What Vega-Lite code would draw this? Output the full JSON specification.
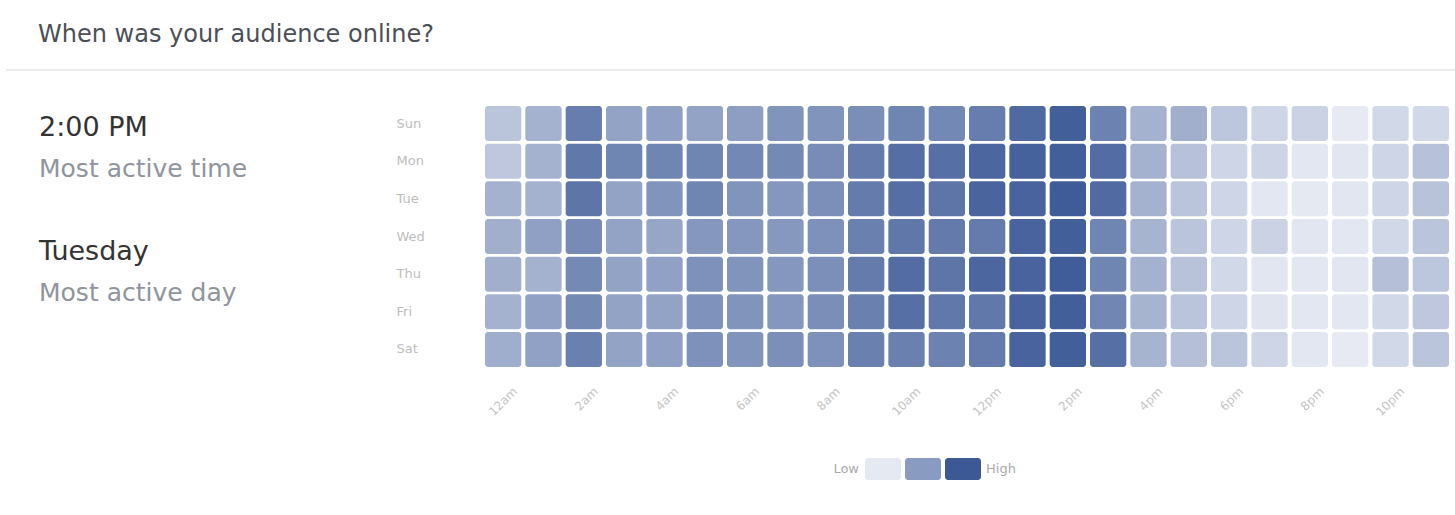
{
  "$schema": "https://vega.github.io/schema/vega-lite/v6.json",
  "background": "white",
  "padding": {"left": 5, "top": 23, "right": 0, "bottom": 0},
  "bounds": "flush",
  "title": {"text": "When was your audience online?", "anchor": "start", "dx": 33, "fontSize": 24, "fontWeight": "normal", "font": "DejaVu Sans", "color": "#4b4f56", "offset": 22},
  "config": {"view": {"stroke": null}, "font": "DejaVu Sans"},
  "spacing": 36,
  "vconcat": [
    {
      "width": 1450,
      "height": 1,
      "data": {"values": [{"line": 0}]},
      "mark": {"type": "rule", "color": "#e9ebee", "strokeWidth": 2},
      "encoding": {"y": {"field": "line", "type": "quantitative", "scale": {"domain": [0, 1]}, "axis": null}}
    },
    {
      "bounds": "flush",
      "spacing": 79,
      "hconcat": [
        {
          "width": 400,
          "height": 210,
          "data": {"values": [
            {"metric": "time", "value": "2:00 PM", "caption": "Most active time"},
            {"metric": "day", "value": "Tuesday", "caption": "Most active day"}
          ]},
          "encoding": {
            "x": {"datum": 0, "type": "quantitative", "scale": {"domain": [0, 1]}, "axis": null},
            "y": {"field": "metric", "type": "ordinal", "sort": ["time", "day"], "scale": {"type": "point", "padding": 0.35}, "axis": null}
          },
          "layer": [
            {"mark": {"type": "text", "align": "left", "baseline": "middle", "dx": 33, "dy": -21, "fontSize": 27, "fontWeight": "normal", "color": "#333333"}, "encoding": {"text": {"field": "value"}}},
            {"mark": {"type": "text", "align": "left", "baseline": "middle", "dx": 33, "dy": 20, "fontSize": 25, "color": "#90949c"}, "encoding": {"text": {"field": "caption"}}}
          ]
        },
        {
          "bounds": "flush",
          "spacing": 91,
          "vconcat": [
            {
              "width": 964,
              "height": 261,
              "data": {"values": [
{"day":"Sun","hour":0,"activity":28},{"day":"Sun","hour":1,"activity":40},{"day":"Sun","hour":2,"activity":75},{"day":"Sun","hour":3,"activity":50},{"day":"Sun","hour":4,"activity":52},{"day":"Sun","hour":5,"activity":50},{"day":"Sun","hour":6,"activity":53},{"day":"Sun","hour":7,"activity":60},{"day":"Sun","hour":8,"activity":60},{"day":"Sun","hour":9,"activity":64},{"day":"Sun","hour":10,"activity":70},{"day":"Sun","hour":11,"activity":68},{"day":"Sun","hour":12,"activity":75},{"day":"Sun","hour":13,"activity":88},{"day":"Sun","hour":14,"activity":95},{"day":"Sun","hour":15,"activity":72},{"day":"Sun","hour":16,"activity":40},{"day":"Sun","hour":17,"activity":42},{"day":"Sun","hour":18,"activity":27},{"day":"Sun","hour":19,"activity":17},{"day":"Sun","hour":20,"activity":19},{"day":"Sun","hour":21,"activity":3},{"day":"Sun","hour":22,"activity":15},{"day":"Sun","hour":23,"activity":15},
{"day":"Mon","hour":0,"activity":26},{"day":"Mon","hour":1,"activity":40},{"day":"Mon","hour":2,"activity":78},{"day":"Mon","hour":3,"activity":70},{"day":"Mon","hour":4,"activity":70},{"day":"Mon","hour":5,"activity":70},{"day":"Mon","hour":6,"activity":68},{"day":"Mon","hour":7,"activity":67},{"day":"Mon","hour":8,"activity":65},{"day":"Mon","hour":9,"activity":76},{"day":"Mon","hour":10,"activity":85},{"day":"Mon","hour":11,"activity":84},{"day":"Mon","hour":12,"activity":90},{"day":"Mon","hour":13,"activity":93},{"day":"Mon","hour":14,"activity":95},{"day":"Mon","hour":15,"activity":86},{"day":"Mon","hour":16,"activity":40},{"day":"Mon","hour":17,"activity":30},{"day":"Mon","hour":18,"activity":17},{"day":"Mon","hour":19,"activity":18},{"day":"Mon","hour":20,"activity":5},{"day":"Mon","hour":21,"activity":6},{"day":"Mon","hour":22,"activity":17},{"day":"Mon","hour":23,"activity":30},
{"day":"Tue","hour":0,"activity":40},{"day":"Tue","hour":1,"activity":40},{"day":"Tue","hour":2,"activity":80},{"day":"Tue","hour":3,"activity":50},{"day":"Tue","hour":4,"activity":60},{"day":"Tue","hour":5,"activity":70},{"day":"Tue","hour":6,"activity":60},{"day":"Tue","hour":7,"activity":58},{"day":"Tue","hour":8,"activity":63},{"day":"Tue","hour":9,"activity":76},{"day":"Tue","hour":10,"activity":85},{"day":"Tue","hour":11,"activity":80},{"day":"Tue","hour":12,"activity":91},{"day":"Tue","hour":13,"activity":92},{"day":"Tue","hour":14,"activity":97},{"day":"Tue","hour":15,"activity":87},{"day":"Tue","hour":16,"activity":40},{"day":"Tue","hour":17,"activity":28},{"day":"Tue","hour":18,"activity":17},{"day":"Tue","hour":19,"activity":5},{"day":"Tue","hour":20,"activity":4},{"day":"Tue","hour":21,"activity":6},{"day":"Tue","hour":22,"activity":17},{"day":"Tue","hour":23,"activity":29},
{"day":"Wed","hour":0,"activity":42},{"day":"Wed","hour":1,"activity":52},{"day":"Wed","hour":2,"activity":66},{"day":"Wed","hour":3,"activity":50},{"day":"Wed","hour":4,"activity":48},{"day":"Wed","hour":5,"activity":58},{"day":"Wed","hour":6,"activity":58},{"day":"Wed","hour":7,"activity":57},{"day":"Wed","hour":8,"activity":62},{"day":"Wed","hour":9,"activity":73},{"day":"Wed","hour":10,"activity":79},{"day":"Wed","hour":11,"activity":77},{"day":"Wed","hour":12,"activity":76},{"day":"Wed","hour":13,"activity":92},{"day":"Wed","hour":14,"activity":95},{"day":"Wed","hour":15,"activity":70},{"day":"Wed","hour":16,"activity":39},{"day":"Wed","hour":17,"activity":28},{"day":"Wed","hour":18,"activity":17},{"day":"Wed","hour":19,"activity":19},{"day":"Wed","hour":20,"activity":6},{"day":"Wed","hour":21,"activity":5},{"day":"Wed","hour":22,"activity":15},{"day":"Wed","hour":23,"activity":28},
{"day":"Thu","hour":0,"activity":42},{"day":"Thu","hour":1,"activity":40},{"day":"Thu","hour":2,"activity":67},{"day":"Thu","hour":3,"activity":50},{"day":"Thu","hour":4,"activity":51},{"day":"Thu","hour":5,"activity":62},{"day":"Thu","hour":6,"activity":60},{"day":"Thu","hour":7,"activity":58},{"day":"Thu","hour":8,"activity":63},{"day":"Thu","hour":9,"activity":76},{"day":"Thu","hour":10,"activity":86},{"day":"Thu","hour":11,"activity":80},{"day":"Thu","hour":12,"activity":90},{"day":"Thu","hour":13,"activity":92},{"day":"Thu","hour":14,"activity":96},{"day":"Thu","hour":15,"activity":70},{"day":"Thu","hour":16,"activity":40},{"day":"Thu","hour":17,"activity":29},{"day":"Thu","hour":18,"activity":15},{"day":"Thu","hour":19,"activity":6},{"day":"Thu","hour":20,"activity":5},{"day":"Thu","hour":21,"activity":6},{"day":"Thu","hour":22,"activity":31},{"day":"Thu","hour":23,"activity":27},
{"day":"Fri","hour":0,"activity":40},{"day":"Fri","hour":1,"activity":51},{"day":"Fri","hour":2,"activity":67},{"day":"Fri","hour":3,"activity":50},{"day":"Fri","hour":4,"activity":50},{"day":"Fri","hour":5,"activity":61},{"day":"Fri","hour":6,"activity":60},{"day":"Fri","hour":7,"activity":58},{"day":"Fri","hour":8,"activity":64},{"day":"Fri","hour":9,"activity":73},{"day":"Fri","hour":10,"activity":84},{"day":"Fri","hour":11,"activity":78},{"day":"Fri","hour":12,"activity":78},{"day":"Fri","hour":13,"activity":92},{"day":"Fri","hour":14,"activity":95},{"day":"Fri","hour":15,"activity":69},{"day":"Fri","hour":16,"activity":39},{"day":"Fri","hour":17,"activity":28},{"day":"Fri","hour":18,"activity":17},{"day":"Fri","hour":19,"activity":7},{"day":"Fri","hour":20,"activity":5},{"day":"Fri","hour":21,"activity":5},{"day":"Fri","hour":22,"activity":15},{"day":"Fri","hour":23,"activity":26},
{"day":"Sat","hour":0,"activity":43},{"day":"Sat","hour":1,"activity":51},{"day":"Sat","hour":2,"activity":73},{"day":"Sat","hour":3,"activity":50},{"day":"Sat","hour":4,"activity":52},{"day":"Sat","hour":5,"activity":62},{"day":"Sat","hour":6,"activity":60},{"day":"Sat","hour":7,"activity":63},{"day":"Sat","hour":8,"activity":62},{"day":"Sat","hour":9,"activity":73},{"day":"Sat","hour":10,"activity":73},{"day":"Sat","hour":11,"activity":72},{"day":"Sat","hour":12,"activity":76},{"day":"Sat","hour":13,"activity":92},{"day":"Sat","hour":14,"activity":95},{"day":"Sat","hour":15,"activity":84},{"day":"Sat","hour":16,"activity":39},{"day":"Sat","hour":17,"activity":31},{"day":"Sat","hour":18,"activity":28},{"day":"Sat","hour":19,"activity":17},{"day":"Sat","hour":20,"activity":5},{"day":"Sat","hour":21,"activity":3},{"day":"Sat","hour":22,"activity":15},{"day":"Sat","hour":23,"activity":28}
              ]},
              "mark": {"type": "rect", "cornerRadius": 3},
              "encoding": {
                "x": {"field": "hour", "type": "ordinal", "scale": {"paddingInner": 0.1, "paddingOuter": 0},
                  "axis": {"values": [0, 2, 4, 6, 8, 10, 12, 14, 16, 18, 20, 22],
                    "labelExpr": "datum.value == 0 ? '12am' : datum.value < 12 ? datum.value + 'am' : datum.value == 12 ? '12pm' : (datum.value - 12) + 'pm'",
                    "labelAngle": -45, "labelAlign": "right", "labelBaseline": "middle", "labelOffset": 12,
                    "domain": false, "ticks": false, "labelPadding": 22, "labelColor": "#c4c4c4", "labelFontSize": 12, "title": null}},
                "y": {"field": "day", "type": "ordinal", "sort": ["Sun", "Mon", "Tue", "Wed", "Thu", "Fri", "Sat"], "scale": {"paddingInner": 0.07, "paddingOuter": 0},
                  "axis": {"domain": false, "ticks": false, "labelAlign": "left", "labelPadding": 89, "labelColor": "#bdbdbd", "labelFontSize": 13, "title": null}},
                "color": {"field": "activity", "type": "quantitative", "scale": {"domain": [0, 100], "range": ["#eceff6", "#3a5795"], "interpolate": "rgb"}, "legend": null}
              }
            },
            {
              "width": 964,
              "height": 22,
              "layer": [
                {
                  "data": {"values": [{"level": "low", "activity": 4}, {"level": "mid", "activity": 55}, {"level": "high", "activity": 99}]},
                  "mark": {"type": "rect", "cornerRadius": 3},
                  "encoding": {
                    "x": {"field": "level", "type": "ordinal", "scale": {"domain": ["low", "mid", "high"], "range": [380, 496], "paddingInner": 0.1, "paddingOuter": 0}, "axis": null},
                    "color": {"field": "activity", "type": "quantitative", "scale": {"domain": [0, 100], "range": ["#eceff6", "#3a5795"], "interpolate": "rgb"}, "legend": null}
                  }
                },
                {
                  "data": {"values": [{"level": "low", "label": "Low"}]},
                  "mark": {"type": "text", "align": "right", "baseline": "middle", "dx": -24, "fontSize": 13, "color": "#aaaaaa"},
                  "encoding": {"x": {"field": "level", "type": "ordinal", "scale": {"domain": ["low", "mid", "high"]}, "axis": null}, "text": {"field": "label"}}
                },
                {
                  "data": {"values": [{"level": "high", "label": "High"}]},
                  "mark": {"type": "text", "align": "left", "baseline": "middle", "dx": 23, "fontSize": 13, "color": "#aaaaaa"},
                  "encoding": {"x": {"field": "level", "type": "ordinal", "scale": {"domain": ["low", "mid", "high"]}, "axis": null}, "text": {"field": "label"}}
                }
              ]
            }
          ]
        }
      ]
    }
  ]
}
